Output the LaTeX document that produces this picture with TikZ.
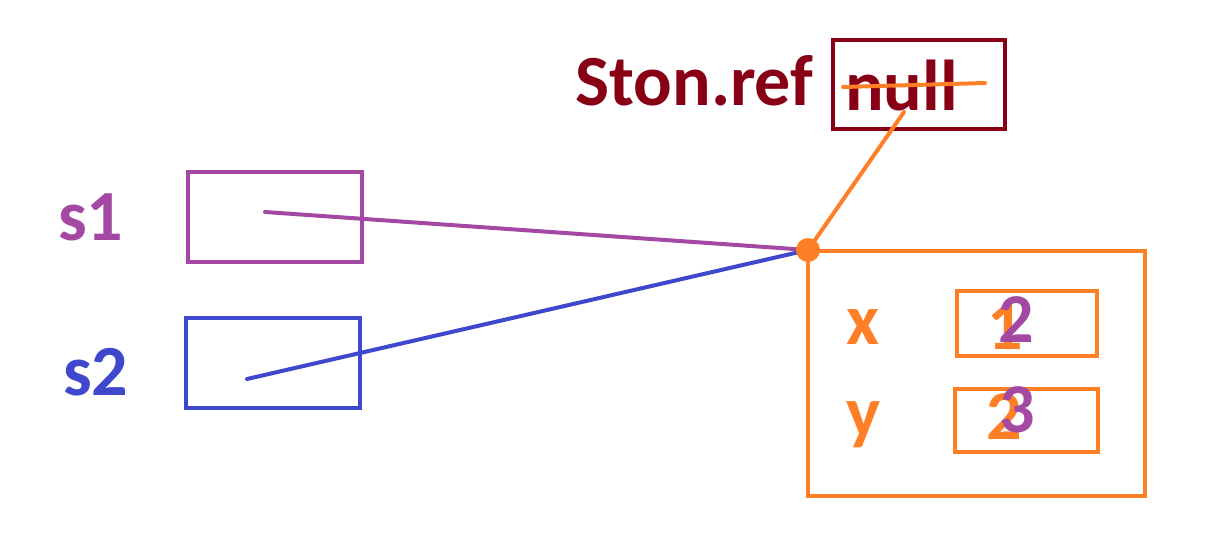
\documentclass[tikz,border=0pt]{standalone}
\usepackage{fontspec}
\setmainfont{Carlito}
\definecolor{paintpurple}{RGB}{163,73,164}
\definecolor{paintblue}{RGB}{63,72,204}
\definecolor{paintorange}{RGB}{255,127,39}
\definecolor{paintred}{RGB}{136,0,21}
\tikzset{
    cell/.style={draw=#1, line width=4pt, inner sep=0pt},
    word/.style={text=#1, inner sep=0pt, anchor=base west, font=\fontsize{72}{72}\selectfont\bfseries},
    digit/.style={text=#1, inner sep=0pt, anchor=base, font=\fontsize{70}{70}\selectfont\bfseries},
    wire/.style={draw=#1, line width=4pt, line cap=round}
}
\begin{document}
\begin{tikzpicture}[x=1pt,y=-1pt]
    \useasboundingbox (0,0) rectangle (1220,552);

    % variables on the left
    \node [word=paintpurple] (s1) at (58,240) {s1};
    \node [word=paintblue] (s2) at (63,395) {s2};
    \node [cell=paintpurple, minimum width=174pt, minimum height=90pt] (s1box) at (275,217) {};
    \node [cell=paintblue, minimum width=174pt, minimum height=90pt] (s2box) at (273,363) {};
    \coordinate (s1p) at (265,212);
    \coordinate (s2p) at (247,379);

    % static field
    \node [word=paintred] (ston) at (575,105) {Ston.ref};
    \node [cell=paintred, minimum width=172pt, minimum height=89pt] (nullbox) at (919,84.5) {};
    \node [word=paintred] (null) at (845,110) {null};
    \coordinate (strikeA) at (843,87);
    \coordinate (strikeB) at (985,83);
    \coordinate (nullp) at (904,112);

    % the object
    \node [cell=paintorange, minimum width=337pt, minimum height=245pt] (obj) at (976.5,373.5) {};
    \node [word=paintorange] (x) at (846,344) {x};
    \node [word=paintorange] (y) at (846,436) {y};
    \node [cell=paintorange, minimum width=140pt, minimum height=65pt] (xbox) at (1027,323.5) {};
    \node [cell=paintorange, minimum width=143pt, minimum height=63pt] (ybox) at (1026.5,420.5) {};
    \node [digit=paintorange] (xold) at (1005,349) {1};
    \node [digit=paintpurple] (xnew) at (1016,342) {2};
    \node [digit=paintorange] (yold) at (1004,439) {2};
    \node [digit=paintpurple] (ynew) at (1017,432) {3};

    % references
    \coordinate (ref) at (808,250);
    \path [wire=paintpurple] (s1p) edge (ref);
    \path [wire=paintblue] (s2p) edge (ref);
    \path [wire=paintorange] (nullp) edge (ref);
    \path [wire=paintorange] (strikeA) edge (strikeB);
    \fill [paintorange] (ref) circle (12pt);
\end{tikzpicture}
\end{document}
